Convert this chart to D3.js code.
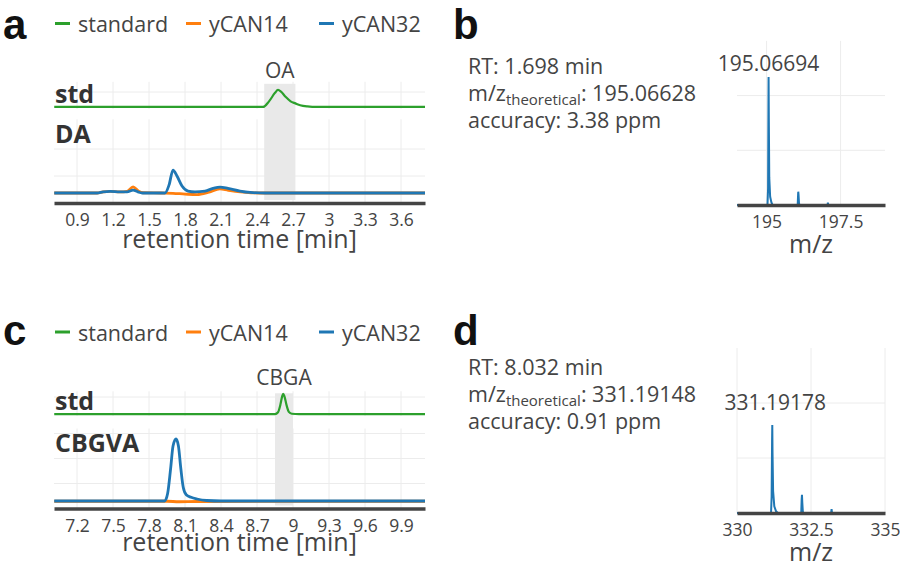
<!DOCTYPE html>
<html><head><meta charset="utf-8">
<script src="https://cdn.jsdelivr.net/npm/d3@7/dist/d3.min.js"></script>
<style>
body{margin:0;background:#fff}
svg{display:block;font-family:"Open Sans",sans-serif}
</style></head><body>
<svg id="chart" width="900" height="568"></svg>
<script>
// ---------------- data ----------------
const seriesNames  = ["standard", "yCAN14", "yCAN32"];
const seriesColors = ["#2ca02c", "#ff7f0e", "#1f77b4"];

// Panel a: chromatograms (retention time [min], intensity a.u.)
const ticksA = [0.9, 1.2, 1.5, 1.8, 2.1, 2.4, 2.7, 3, 3.3, 3.6];
const rtA_std  = [0.71, 2.45, 2.5, 2.55, 2.575, 2.6, 2.64, 2.68, 2.72, 2.76, 2.82, 2.9, 3.8];
const intA_std = [0.12, 0.12, 0.45, 0.95, 1.12, 1.02, 0.7, 0.45, 0.33, 0.22, 0.15, 0.12, 0.12];
const rtA_14   = [0.71, 1.067, 1.117, 1.175, 1.258, 1.317, 1.367, 1.41, 1.45, 1.6, 1.7, 1.8, 1.9, 2.0, 2.09, 2.16, 2.26, 2.35, 2.47, 3.8];
const intA_14  = [0.37, 0.37, 0.41, 0.43, 0.41, 0.43, 0.6, 0.45, 0.38, 0.37, 0.36, 0.33, 0.31, 0.4, 0.52, 0.47, 0.41, 0.38, 0.37, 0.37];
const rtA_32   = [0.71, 1.067, 1.117, 1.175, 1.258, 1.317, 1.367, 1.408, 1.442, 1.633, 1.667, 1.70, 1.733, 1.775, 1.825, 1.883, 1.967, 2.033, 2.092, 2.158, 2.258, 2.342, 2.467, 3.8];
const intA_32  = [0.37, 0.37, 0.41, 0.43, 0.41, 0.41, 0.48, 0.41, 0.37, 0.37, 0.67, 1.22, 1.0, 0.63, 0.44, 0.41, 0.44, 0.54, 0.59, 0.54, 0.44, 0.39, 0.37, 0.37];
const bandA = [2.46, 2.72];

// Panel c: chromatograms
const ticksC = [7.2, 7.5, 7.8, 8.1, 8.4, 8.7, 9, 9.3, 9.6, 9.9];
const rtC_std  = [7.01, 8.85, 8.875, 8.895, 8.91, 8.918, 8.928, 8.945, 8.965, 8.99, 9.05, 10.1];
const intC_std = [0.1, 0.1, 0.2, 0.6, 1.05, 1.16, 1.05, 0.6, 0.22, 0.12, 0.1, 0.1];
const rtC_14   = [7.01, 7.95, 8.05, 8.2, 10.1];
const intC_14  = [0.29, 0.29, 0.27, 0.28, 0.29];
const rtC_32   = [7.01, 7.93, 7.955, 7.98, 8.0, 8.025, 8.045, 8.065, 8.085, 8.11, 8.15, 8.2, 8.28, 8.4, 10.1];
const intC_32  = [0.3, 0.3, 0.6, 1.6, 2.5, 2.78, 2.5, 1.6, 0.85, 0.55, 0.45, 0.38, 0.32, 0.3, 0.3];
const bandC = [8.85, 9.0];

// Panel b: mass spectrum
const ticksB = [195, 197.5];
const mzB  = [194.0, 195.03, 195.05, 195.062, 195.067, 195.075, 195.09, 195.12, 195.16, 195.2, 196.05, 196.065, 196.07, 196.08, 196.095, 196.11, 197.06, 197.07, 197.085, 199.0];
const intB = [0, 0, 0.3, 1.8, 2.34, 1.6, 0.5, 0.15, 0.05, 0, 0, 0.2, 0.243, 0.18, 0.03, 0, 0, 0.042, 0, 0];
const infoB = ["1.698", "195.06628", "3.38", "195.06694"];

// Panel d: mass spectrum
const ticksD = [330, 332.5, 335];
const mzD  = [330.0, 331.15, 331.17, 331.185, 331.192, 331.2, 331.22, 331.26, 331.32, 331.38, 332.17, 332.185, 332.195, 332.205, 332.225, 332.25, 333.18, 333.195, 333.21, 335.0];
const intD = [0, 0, 0.3, 1.3, 1.6, 1.1, 0.4, 0.12, 0.03, 0, 0, 0.25, 0.33, 0.2, 0.02, 0, 0, 0.07, 0, 0];
const infoD = ["8.032", "331.19148", "0.91", "331.19178"];

// ---------------- drawing ----------------
const svg = d3.select("#chart");
svg.append("rect").attr("width", 900).attr("height", 568).attr("fill", "#fff");
const TXT = "#444", GRID = "#ececec", BAND = "#e9e9e9";

function panelLetter(ch, x, y) {
  svg.append("text").attr("x", x).attr("y", y).text(ch)
    .attr("font-family", "'Liberation Sans', Arial, sans-serif")
    .attr("font-weight", "bold").attr("font-size", 42).attr("fill", "#111");
}

function legend(y) {
  const xs = [55, 186, 319];
  const g = svg.append("g");
  seriesNames.forEach((n, i) => {
    g.append("line").attr("x1", xs[i]).attr("x2", xs[i] + 15).attr("y1", y).attr("y2", y)
      .attr("stroke", seriesColors[i]).attr("stroke-width", 3);
    g.append("text").attr("x", xs[i] + 23).attr("y", y + 8.5).text(n)
      .attr("font-size", 21.5).attr("fill", TXT);
  });
}

function chromPanel(c) {
  const g = svg.append("g");
  const x = d3.scaleLinear().domain(c.xDomain).range([54, 425]);
  const yS = d3.scaleLinear().domain(c.stdDomain).range(c.stdRange);
  const yM = d3.scaleLinear().domain(c.smpDomain).range(c.smpRange);
  [[yS, c.stdGrid], [yM, c.smpGrid]].forEach(([y, grid]) => {
    const r = y.range();
    g.selectAll(null).data(c.ticks).enter().append("line")
      .attr("x1", d => x(d)).attr("x2", d => x(d)).attr("y1", r[1]).attr("y2", r[0])
      .attr("stroke", GRID).attr("stroke-width", 1);
    g.selectAll(null).data(grid).enter().append("line")
      .attr("x1", 54).attr("x2", 425).attr("y1", d => y(d)).attr("y2", d => y(d))
      .attr("stroke", GRID).attr("stroke-width", 1);
  });
  // highlighted band
  const top = yS.range()[1] + 2;
  g.append("rect").attr("x", x(c.band[0])).attr("width", x(c.band[1]) - x(c.band[0]))
    .attr("y", top).attr("height", yM(0) - 3 - top).attr("fill", BAND);
  g.append("text").attr("x", x((c.band[0] + c.band[1]) / 2)).attr("y", c.bandLabelY)
    .attr("text-anchor", "middle").attr("font-size", 21).attr("fill", TXT).text(c.bandLabel);
  // traces
  const mk = (y) => d3.line().x(d => x(d[0])).y(d => y(d[1])).curve(d3.curveMonotoneX);
  g.append("path").datum(d3.zip(c.stdX, c.stdY)).attr("d", mk(yS))
    .attr("fill", "none").attr("stroke", seriesColors[0]).attr("stroke-width", 2.2);
  g.append("path").datum(d3.zip(c.s14X, c.s14Y)).attr("d", mk(yM))
    .attr("fill", "none").attr("stroke", seriesColors[1]).attr("stroke-width", 2.8);
  g.append("path").datum(d3.zip(c.s32X, c.s32Y)).attr("d", mk(yM))
    .attr("fill", "none").attr("stroke", seriesColors[2]).attr("stroke-width", 2.8);
  // row labels
  g.append("text").attr("x", 55).attr("y", c.stdLabelY).text("std")
    .attr("font-weight", "bold").attr("font-size", 25).attr("fill", "#333");
  g.append("text").attr("x", 55).attr("y", c.smpLabelY).text(c.smpLabel)
    .attr("font-weight", "bold").attr("font-size", 25).attr("fill", "#333");
  // x axis
  const ax = g.append("g").attr("transform", `translate(0,${yM(0)})`)
    .call(d3.axisBottom(x).tickValues(c.ticks).tickFormat(d3.format("~g"))
      .tickSizeInner(0).tickSizeOuter(0).tickPadding(11));
  ax.select(".domain").attr("stroke", "#444").attr("stroke-width", 3.5);
  ax.selectAll("text").attr("font-size", 17.5).attr("fill", TXT).attr("font-family", "'Open Sans'");
  g.append("text").attr("x", (54 + 425) / 2).attr("y", yM(0) + c.titleOff)
    .attr("text-anchor", "middle").attr("font-size", 25).attr("fill", TXT).text("retention time [min]");
}

function specPanel(s) {
  const g = svg.append("g");
  const x = d3.scaleLinear().domain(s.xDomain).range([737, 885]);
  const y = d3.scaleLinear().domain([0, 3]).range([s.zeroY, s.zeroY - 3 * s.unit]);
  g.selectAll(null).data(s.ticks).enter().append("line")
    .attr("x1", d => x(d)).attr("x2", d => x(d)).attr("y1", y(3)).attr("y2", y(0))
    .attr("stroke", GRID).attr("stroke-width", 1);
  g.selectAll(null).data([1, 2]).enter().append("line")
    .attr("x1", 737).attr("x2", 885).attr("y1", d => y(d)).attr("y2", d => y(d))
    .attr("stroke", GRID).attr("stroke-width", 1);
  g.append("path").datum(d3.zip(s.mz, s.int))
    .attr("d", d3.line().x(d => x(d[0])).y(d => y(d[1])))
    .attr("fill", "none").attr("stroke", seriesColors[2]).attr("stroke-width", 2);
  const ax = g.append("g").attr("transform", `translate(0,${y(0)})`)
    .call(d3.axisBottom(x).tickValues(s.ticks).tickFormat(d3.format("~g"))
      .tickSizeInner(0).tickSizeOuter(0).tickPadding(11));
  ax.select(".domain").attr("stroke", "#444").attr("stroke-width", 3.5);
  ax.selectAll("text").attr("font-size", 17.5).attr("fill", TXT).attr("font-family", "'Open Sans'");
  g.append("text").attr("x", 811).attr("y", y(0) + 48).attr("text-anchor", "middle")
    .attr("font-size", 25).attr("fill", TXT).text("m/z");
  // peak label
  const imax = d3.maxIndex(s.int);
  g.append("text").attr("x", x(s.mz[imax]) + s.labelDx).attr("y", s.labelY)
    .attr("text-anchor", "middle").attr("font-size", 21).attr("fill", TXT).text(s.info[3]);
  // info text
  const t = g.append("g").attr("font-size", 21.5).attr("fill", TXT);
  t.append("text").attr("x", 468).attr("y", s.infoY).text(`RT: ${s.info[0]} min`);
  const l2 = t.append("text").attr("x", 468).attr("y", s.infoY + 27);
  l2.append("tspan").text("m/z");
  l2.append("tspan").attr("font-size", 15).attr("dy", 4).text("theoretical");
  l2.append("tspan").attr("dy", -4).text(`: ${s.info[1]}`);
  t.append("text").attr("x", 468).attr("y", s.infoY + 54).text(`accuracy: ${s.info[2]} ppm`);
}

// Panel a
panelLetter("a", 3, 38.5);
legend(23.5);
chromPanel({
  xDomain: [0.708, 3.8], ticks: ticksA,
  stdDomain: [0, 1.6], stdRange: [109, 81.8], stdGrid: [1],
  smpDomain: [0, 3.1], smpRange: [203, 119.3], smpGrid: [1, 2],
  band: bandA, bandLabel: "OA", bandLabelY: 78,
  stdX: rtA_std, stdY: intA_std, s14X: rtA_14, s14Y: intA_14, s32X: rtA_32, s32Y: intA_32,
  stdLabelY: 103, smpLabel: "DA", smpLabelY: 143, titleOff: 45
});

// Panel c
panelLetter("c", 3, 345);
legend(332);
chromPanel({
  xDomain: [7.008, 10.1], ticks: ticksC,
  stdDomain: [0, 1.3], stdRange: [416, 391.3], stdGrid: [1],
  smpDomain: [0, 3.2], smpRange: [508.5, 428.5], smpGrid: [1, 2, 3],
  band: bandC, bandLabel: "CBGA", bandLabelY: 385,
  stdX: rtC_std, stdY: intC_std, s14X: rtC_14, s14Y: intC_14, s32X: rtC_32, s32Y: intC_32,
  stdLabelY: 410, smpLabel: "CBGVA", smpLabelY: 452, titleOff: 42
});

// Panel b
panelLetter("b", 453, 38.5);
specPanel({ xDomain: [194, 199], ticks: ticksB, zeroY: 205, unit: 54.7,
  mz: mzB, int: intB, info: infoB, labelY: 71, labelDx: 0, infoY: 74 });

// Panel d
panelLetter("d", 453, 345);
specPanel({ xDomain: [330, 335], ticks: ticksD, zeroY: 513, unit: 55,
  mz: mzD, int: intD, info: infoD, labelY: 410, labelDx: 3, infoY: 375 });
</script>
</body></html>
